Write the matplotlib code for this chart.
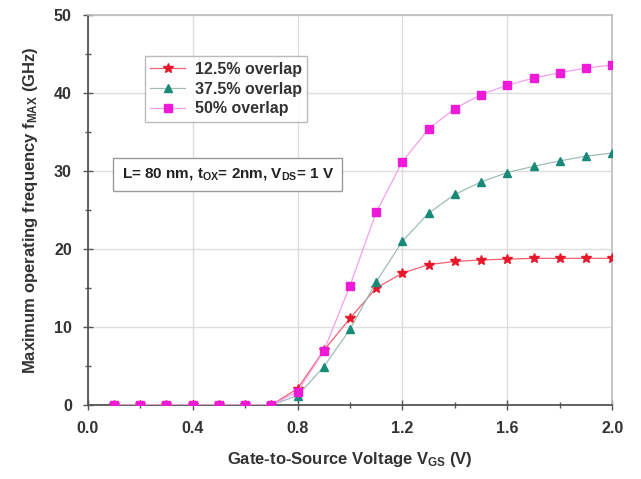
import matplotlib
matplotlib.use("Agg")
import matplotlib.pyplot as plt

plt.rcParams["font.family"] = ["Liberation Sans", "DejaVu Sans"]
plt.rcParams["mathtext.fontset"] = "custom"
plt.rcParams["mathtext.rm"] = "Liberation Sans:bold"
plt.rcParams["mathtext.it"] = "Liberation Sans:bold"
plt.rcParams["mathtext.bf"] = "Liberation Sans:bold"

vgs = [0.1, 0.2, 0.3, 0.4, 0.5, 0.6, 0.7, 0.8, 0.9, 1.0,
       1.1, 1.2, 1.3, 1.4, 1.5, 1.6, 1.7, 1.8, 1.9, 2.0]
f_125 = [0, 0, 0, 0, 0, 0, 0, 2.1, 7.0, 11.1,
         15.0, 16.9, 18.0, 18.4, 18.6, 18.7, 18.8, 18.8, 18.8, 18.8]
f_375 = [0, 0, 0, 0, 0, 0, 0, 1.2, 4.9, 9.7,
         15.8, 21.0, 24.6, 27.0, 28.6, 29.8, 30.6, 31.3, 31.9, 32.3]
f_50 = [0, 0, 0, 0, 0, 0, 0, 1.7, 6.9, 15.3,
        24.7, 31.2, 35.4, 38.0, 39.8, 41.0, 41.9, 42.6, 43.2, 43.6]
labels = ["12.5% overlap", "37.5% overlap", "50% overlap"]

fig = plt.figure(figsize=(6.41, 4.79), dpi=100)
ax = fig.add_axes([0.137, 0.1545, 0.818, 0.8142])

ax.plot(vgs, f_125, color="#f06070", lw=0.9, marker="*", ms=7,
        mfc="#e8182c", mec="#e8182c", label=labels[0], zorder=3)
ax.plot(vgs, f_375, color="#9fbcb8", lw=0.9, marker="^", ms=6,
        mfc="#1a8a78", mec="#1a8a78", label=labels[1], zorder=3)
ax.plot(vgs, f_50, color="#f4a0ec", lw=0.9, marker="s", ms=5.5,
        mfc="#ee1ad8", mec="#ee1ad8", label=labels[2], zorder=4)

ax.set_xlim(0, 2.0)
ax.set_ylim(0, 50)
ax.set_xticks([0.0, 0.4, 0.8, 1.2, 1.6, 2.0])
ax.set_xticks([0.2, 0.6, 1.0, 1.4, 1.8], minor=True)
ax.set_yticks([0, 10, 20, 30, 40, 50])
ax.set_yticks([5, 15, 25, 35, 45], minor=True)
ax.set_xticklabels(["0.0", "0.4", "0.8", "1.2", "1.6", "2.0"])
ax.grid(True, which="major", color="#dedede", lw=1.0, zorder=0)

for s in ("left", "bottom"):
    ax.spines[s].set_color("#555555")
    ax.spines[s].set_linewidth(1.3)
for s in ("top", "right"):
    ax.spines[s].set_color("#bdbdbd")
    ax.spines[s].set_linewidth(1.2)
ax.tick_params(which="both", direction="inout", color="#555555", width=1.0,
               labelsize=11.5, labelcolor="#333333")
ax.tick_params(which="major", length=7, pad=8)
ax.tick_params(which="minor", length=4)
for t in ax.get_xticklabels() + ax.get_yticklabels():
    t.set_fontweight("bold")

ax.set_xlabel("Gate-to-Source Voltage $V_{GS}$ (V)", fontsize=12,
              fontweight="bold", color="#333333", labelpad=10)
ax.set_ylabel("Maximum operating frequency $f_{MAX}$ (GHz)", fontsize=12,
              fontweight="bold", color="#333333", labelpad=10)

leg = ax.legend(loc="upper left", bbox_to_anchor=(0.093, 0.915), fancybox=False,
                edgecolor="#aaaaaa", fontsize=11.5, handlelength=2.2,
                borderpad=0.35, labelspacing=0.3, handletextpad=0.6)
leg.get_frame().set_linewidth(1.0)
for t in leg.get_texts():
    t.set_fontweight("bold")
    t.set_color("#333333")

ax.text(0.267, 0.592, "L= 80 nm, $t_{OX}$= 2nm, $V_{DS}$= 1 V",
        transform=ax.transAxes, ha="center", va="center", fontsize=11,
        fontweight="bold", color="#222222",
        bbox=dict(boxstyle="square,pad=0.55", fc="white", ec="#999999", lw=1.0))

fig.savefig("out.png", dpi=100)
